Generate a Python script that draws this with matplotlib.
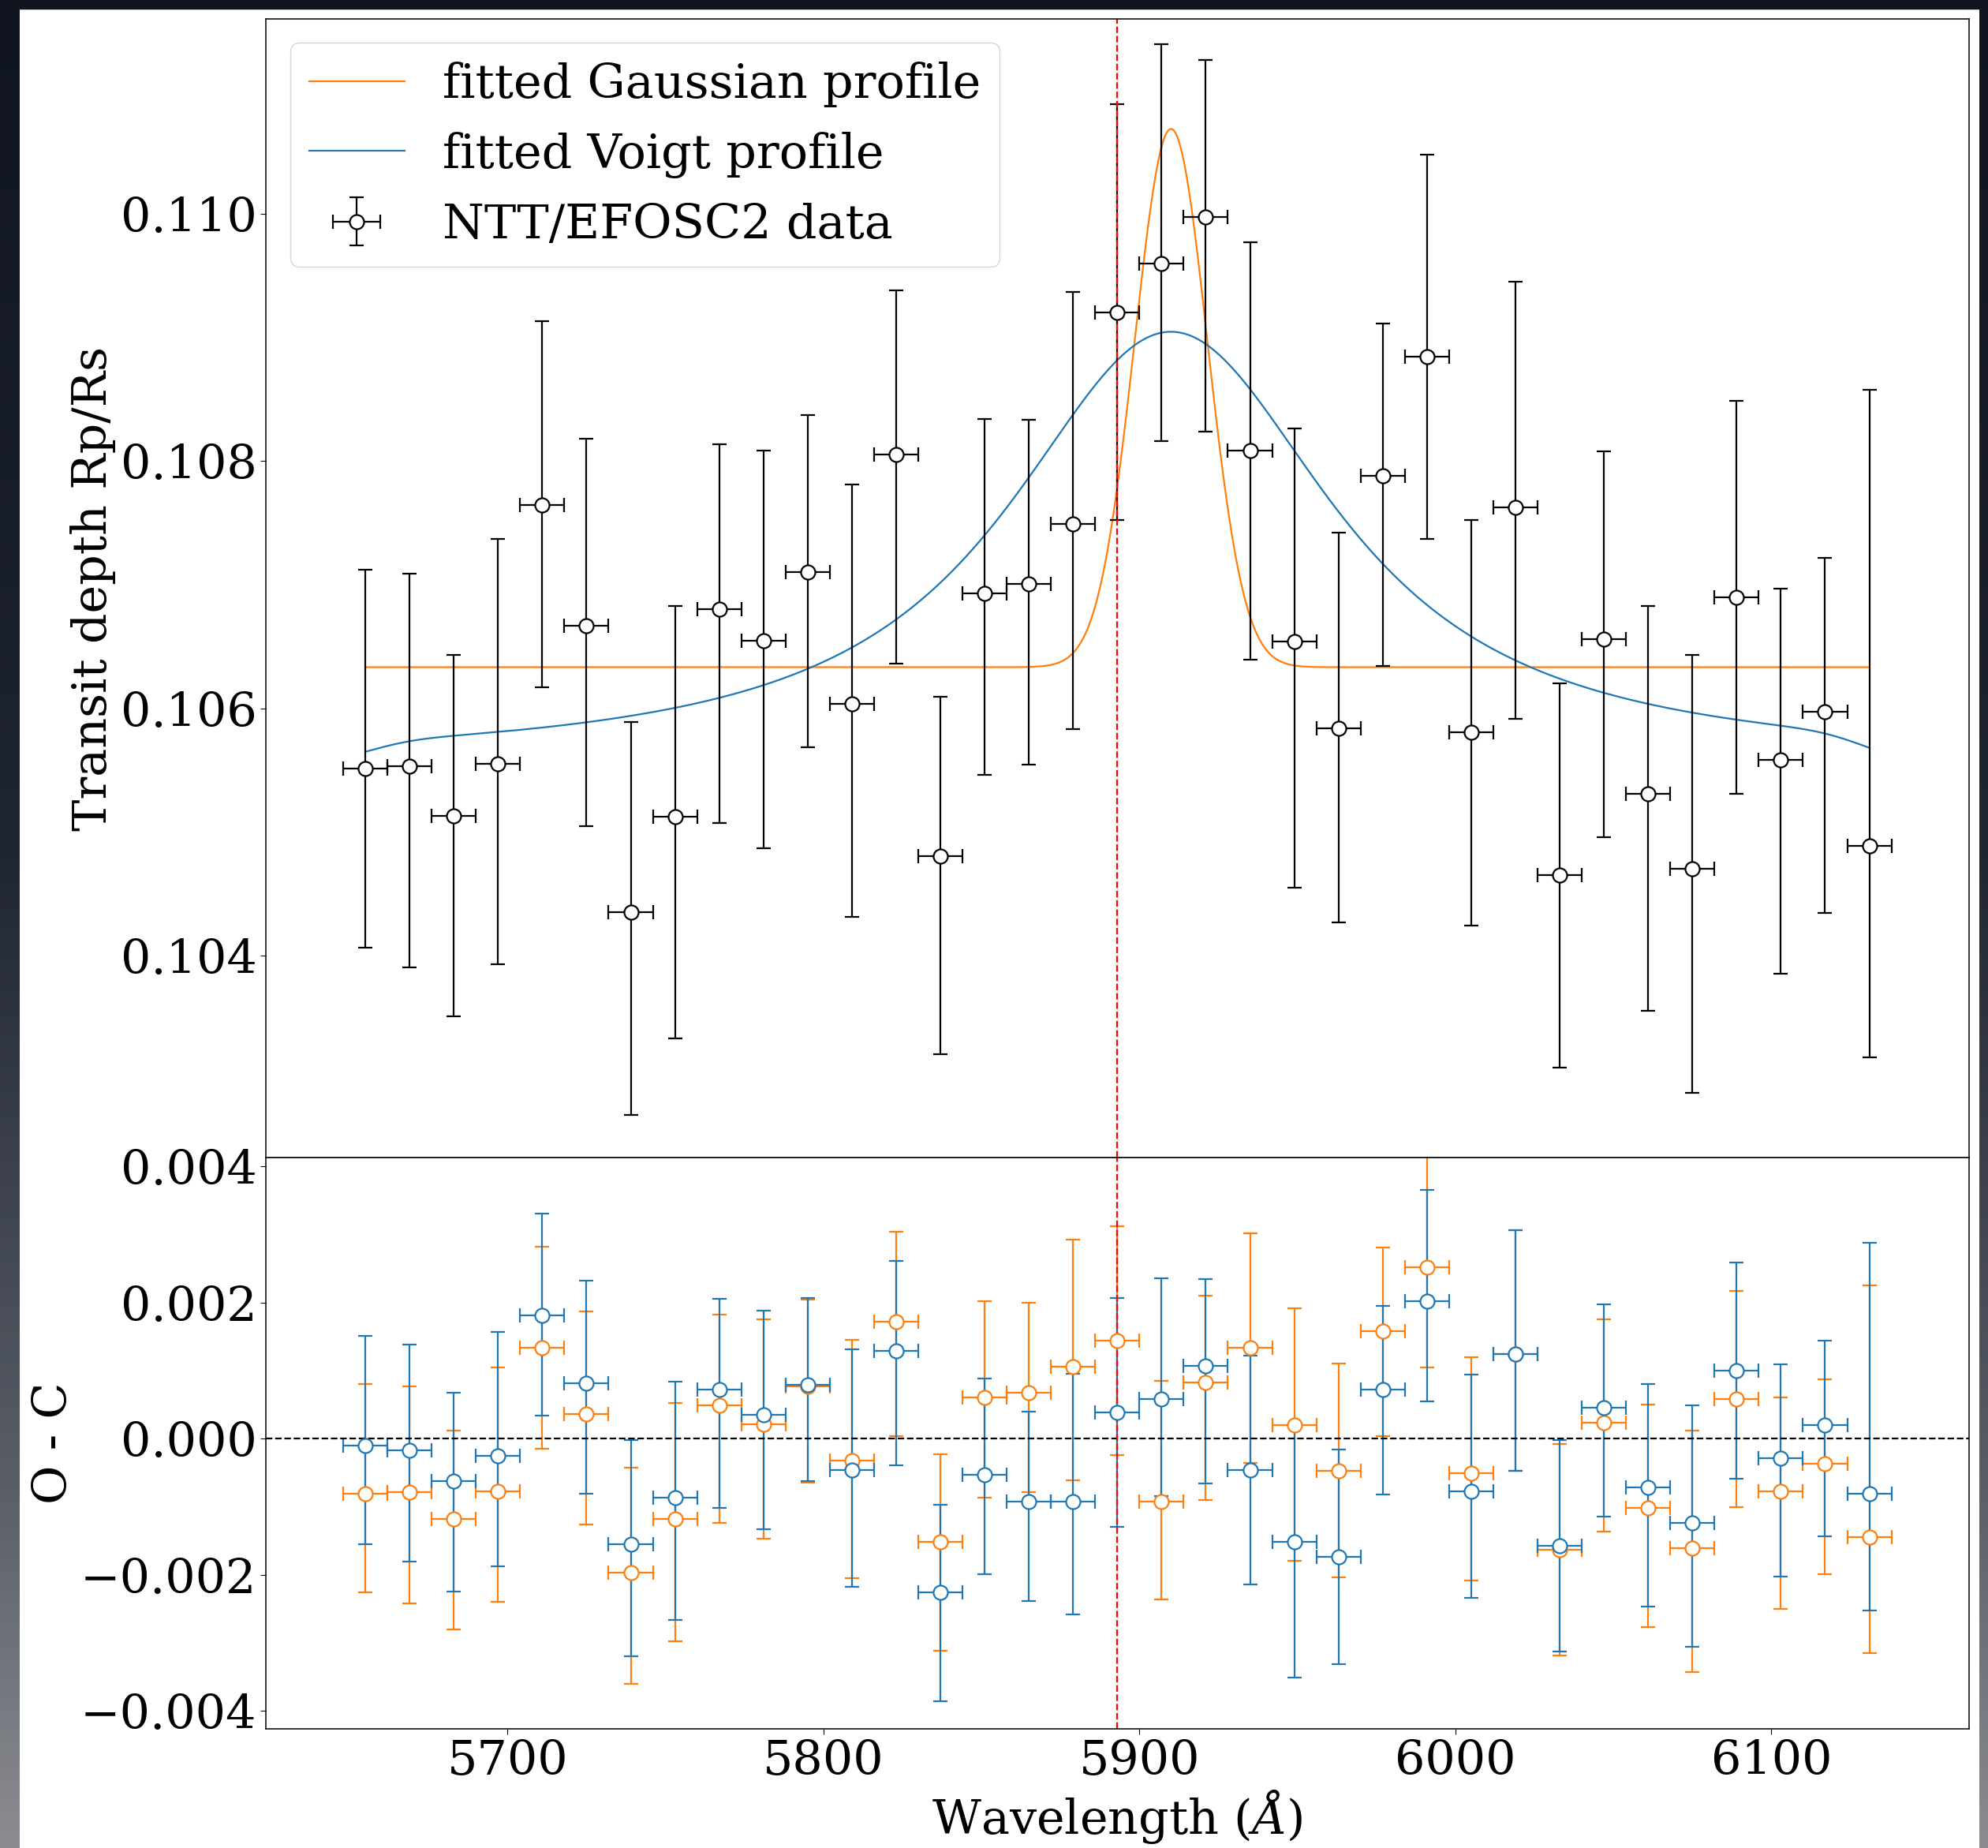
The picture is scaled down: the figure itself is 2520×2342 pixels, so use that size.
import matplotlib
matplotlib.use("Agg")
import matplotlib.pyplot as plt
import numpy as np
from matplotlib.colors import LinearSegmentedColormap
from matplotlib.ticker import FuncFormatter

plt.rcParams['font.family'] = ['DejaVu Serif']
plt.rcParams['mathtext.fontset'] = 'dejavuserif'
plt.rcParams['font.size'] = 43.5

# bin centres (Angstrom) and half width
wave = [5655, 5669, 5683, 5697, 5711, 5725, 5739, 5753, 5767, 5781, 5795, 5809,
        5823, 5837, 5851, 5865, 5879, 5893, 5907, 5921, 5935, 5949, 5963, 5977,
        5991, 6005, 6019, 6033, 6047, 6061, 6075, 6089, 6103, 6117, 6131]
half_bin = 7

# transit depth Rp/Rs with asymmetric errors
depth = [0.105514, 0.105534, 0.105134, 0.105555, 0.107646, 0.106672, 0.104355,
         0.105124, 0.106805, 0.106549, 0.107103, 0.106037, 0.108056, 0.104806,
         0.106928, 0.107010, 0.107492, 0.109204, 0.109594, 0.109973, 0.108087,
         0.106539, 0.105840, 0.107882, 0.108845, 0.105811, 0.107626, 0.104653,
         0.106559, 0.105309, 0.104704, 0.106898, 0.105586, 0.105975, 0.104889]
err_up = [0.001609, 0.001558, 0.001302, 0.001814, 0.001486, 0.001507, 0.001538,
          0.001702, 0.001333, 0.001538, 0.001271, 0.001773, 0.001322, 0.001292,
          0.001415, 0.001322, 0.001876, 0.001681, 0.001773, 0.001271, 0.001681,
          0.001722, 0.001579, 0.001230, 0.001630, 0.001712, 0.001825, 0.001548,
          0.001517, 0.001517, 0.001732, 0.001589, 0.001384, 0.001240, 0.003690]
err_dn = [0.001445, 0.001630, 0.001620, 0.001620, 0.001476, 0.001620, 0.001640,
          0.001794, 0.001732, 0.001681, 0.001415, 0.001722, 0.001691, 0.001599,
          0.001466, 0.001466, 0.001661, 0.001681, 0.001435, 0.001732, 0.001691,
          0.001989, 0.001568, 0.001538, 0.001476, 0.001568, 0.001712, 0.001558,
          0.001599, 0.001753, 0.001814, 0.001589, 0.001732, 0.001630, 0.001712]

# O - C residuals for the two fits
res_gauss = [-0.000810, -0.000791, -0.001182, -0.000773, 0.001331, 0.000363,
             -0.001965, -0.001182, 0.000493, 0.000214, 0.000773, -0.000326,
             0.001723, -0.001518, 0.000605, 0.000680, 0.001052, 0.001443,
             -0.000922, 0.000829, 0.001331, 0.000196, -0.000475, 0.001574,
             0.002523, -0.000512, 0.001238, -0.001629, 0.000233, -0.001015,
             -0.001611, 0.000587, -0.000773, -0.000363, -0.001443]
res_voigt = [-0.000102, -0.000177, -0.000624, -0.000251, 0.001816, 0.000810,
             -0.001555, -0.000866, 0.000717, 0.000345, 0.000791, -0.000456,
             0.001294, -0.002263, -0.000531, -0.000922, -0.000922, 0.000382,
             0.000587, 0.001071, -0.000456, -0.001518, -0.001741, 0.000717,
             0.002020, -0.000773, 0.001238, -0.001574, 0.000456, -0.000717,
             -0.001238, 0.000996, -0.000289, 0.000196, -0.000810]

na_line = 5893

# fitted profile parameters
g_base, g_amp, g_cen, g_sig = 0.106334, 0.004351, 5910.0, 11.5
v_base, v_amp, v_cen, v_gam, v_sig = 0.10555, 0.00363, 5910.0, 59.0, 12.0

wave = np.array(wave)
xerr = np.full(len(wave), half_bin)
step = 0.25
xm = np.arange(wave[0], wave[-1] + step / 2, step)
gauss = g_base + g_amp * np.exp(-(xm - g_cen)**2 / (2 * g_sig**2))
# Voigt = Lorentzian convolved numerically with a Gaussian on the data range
lor = v_amp / (1 + ((xm - v_cen) / v_gam)**2)
kx = np.arange(-5 * v_sig, 5 * v_sig + step / 2, step)
kern = np.exp(-kx**2 / (2 * v_sig**2))
kern /= kern.sum()
voigt = v_base + np.convolve(lor, kern, mode='same')

fig = plt.figure(figsize=(25.2, 23.42), dpi=100)
ax1 = fig.add_axes([0.13385, 0.37348, 0.85651, 0.61627])
ax2 = fig.add_axes([0.13385, 0.0646, 0.85651, 0.30888], sharex=ax1)

eb = dict(fmt='o', ms=13, mfc='white', mew=1.6, elinewidth=1.6,
          capsize=6.7, capthick=1.8)

ax1.plot(xm, gauss, color='tab:orange', lw=1.6, label='fitted Gaussian profile')
ax1.plot(xm, voigt, color='tab:blue', lw=1.6, label='fitted Voigt profile')
ax1.errorbar(wave, depth, yerr=[err_dn, err_up], xerr=xerr, color='k',
             mec='k', label='NTT/EFOSC2 data', **eb)
ax1.axvline(na_line, color='r', ls='--', lw=1.6)
ax1.set_ylim(0.102368, 0.111574)
ax1.set_ylabel('Transit depth Rp/Rs')
ax1.legend(loc='upper left')
ax1.tick_params(axis='x', labelbottom=False)

ax2.errorbar(wave, res_gauss, yerr=[err_dn, err_up], xerr=xerr,
             color='tab:orange', mec='tab:orange', **eb)
ax2.errorbar(wave, res_voigt, yerr=[err_dn, err_up], xerr=xerr,
             color='tab:blue', mec='tab:blue', **eb)
ax2.axhline(0, color='k', ls='--', lw=1.6)
ax2.axvline(na_line, color='r', ls='--', lw=1.6)
ax2.set_ylim(-0.00426, 0.004126)
ax2.set_yticks([-0.004, -0.002, 0.0, 0.002, 0.004])
ax2.set_xlim(5623.6, 6162.5)
ax2.set_xticks([5700, 5800, 5900, 6000, 6100])
ax2.set_xlabel(r'Wavelength ($\AA$)')
ax2.set_ylabel('O - C')

fmt = FuncFormatter(lambda v, p: ('%.3f' % v).replace('-', '\u2212'))
for ax in (ax1, ax2):
    ax.yaxis.set_major_formatter(fmt)
    ax.tick_params(length=5, width=0.8)
    for s in ax.spines.values():
        s.set_linewidth(1.1)

# screenshot frame around the figure
fig.patches.append(plt.Rectangle((0, 1 - 11 / 2342), 1, 11 / 2342,
                                 transform=fig.transFigure, color='#10151f'))
cm = LinearSegmentedColormap.from_list(
    'frame', [(0, '#10151f'), (0.45, '#1e2430'), (0.8, '#585d66'), (1, '#8a8c90')])
grad = np.linspace(0, 1, 256)[:, None]
for x0, w in [(0, 24 / 2520), (2509 / 2520, 11 / 2520)]:
    fa = fig.add_axes([x0, 0, w, 1 - 11 / 2342])
    fa.imshow(grad, aspect='auto', cmap=cm, origin='upper')
    fa.axis('off')

fig.savefig('out.png', dpi=100)
